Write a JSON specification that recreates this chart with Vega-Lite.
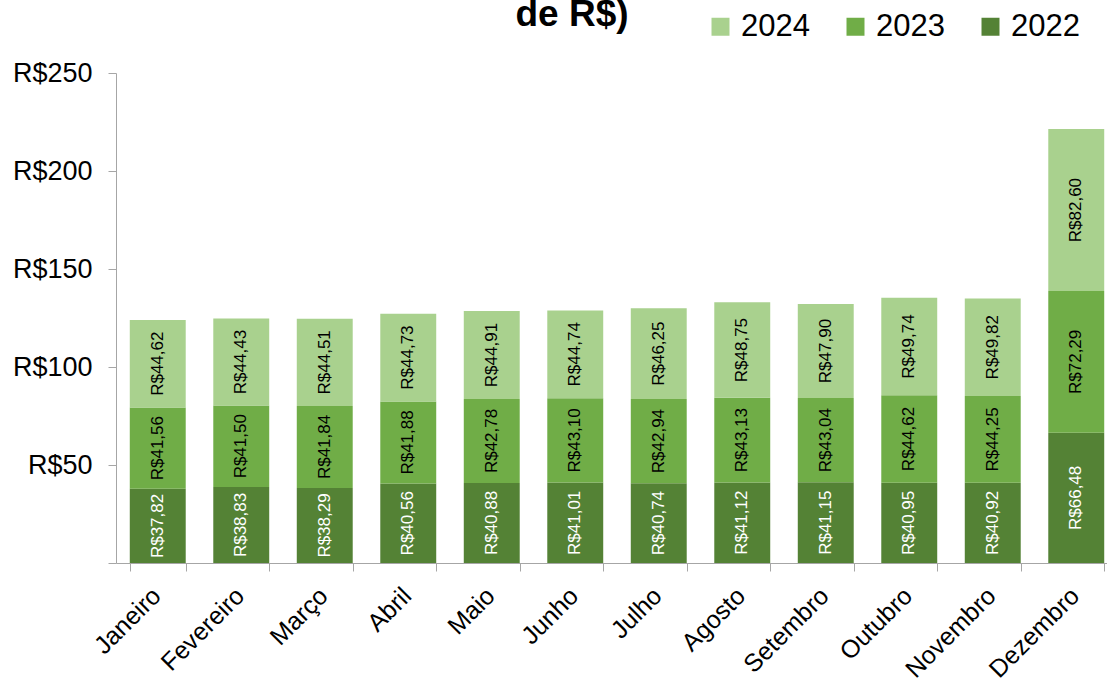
{
  "$schema": "https://vega.github.io/schema/vega-lite/v6.json",
  "autosize": "none",
  "width": 1002,
  "height": 490,
  "padding": {"left": 116, "top": 73, "right": 0, "bottom": 118},
  "background": "white",
  "config": {
    "view": {"stroke": null},
    "font": "Liberation Sans",
    "locale": {"number": {"decimal": ",", "thousands": ".", "grouping": [3], "currency": ["R$", ""]}}
  },
  "title": {
    "text": "de R$)",
    "anchor": "middle",
    "frame": "group",
    "dx": -45,
    "offset": -23,
    "font": "Liberation Sans",
    "fontSize": 37,
    "fontWeight": "bold",
    "color": "black"
  },
  "data": {
    "values": [
      {"month": "Janeiro", "year": "2022", "value": 37.82},
      {"month": "Janeiro", "year": "2023", "value": 41.56},
      {"month": "Janeiro", "year": "2024", "value": 44.62},
      {"month": "Fevereiro", "year": "2022", "value": 38.83},
      {"month": "Fevereiro", "year": "2023", "value": 41.50},
      {"month": "Fevereiro", "year": "2024", "value": 44.43},
      {"month": "Março", "year": "2022", "value": 38.29},
      {"month": "Março", "year": "2023", "value": 41.84},
      {"month": "Março", "year": "2024", "value": 44.51},
      {"month": "Abril", "year": "2022", "value": 40.56},
      {"month": "Abril", "year": "2023", "value": 41.88},
      {"month": "Abril", "year": "2024", "value": 44.73},
      {"month": "Maio", "year": "2022", "value": 40.88},
      {"month": "Maio", "year": "2023", "value": 42.78},
      {"month": "Maio", "year": "2024", "value": 44.91},
      {"month": "Junho", "year": "2022", "value": 41.01},
      {"month": "Junho", "year": "2023", "value": 43.10},
      {"month": "Junho", "year": "2024", "value": 44.74},
      {"month": "Julho", "year": "2022", "value": 40.74},
      {"month": "Julho", "year": "2023", "value": 42.94},
      {"month": "Julho", "year": "2024", "value": 46.25},
      {"month": "Agosto", "year": "2022", "value": 41.12},
      {"month": "Agosto", "year": "2023", "value": 43.13},
      {"month": "Agosto", "year": "2024", "value": 48.75},
      {"month": "Setembro", "year": "2022", "value": 41.15},
      {"month": "Setembro", "year": "2023", "value": 43.04},
      {"month": "Setembro", "year": "2024", "value": 47.90},
      {"month": "Outubro", "year": "2022", "value": 40.95},
      {"month": "Outubro", "year": "2023", "value": 44.62},
      {"month": "Outubro", "year": "2024", "value": 49.74},
      {"month": "Novembro", "year": "2022", "value": 40.92},
      {"month": "Novembro", "year": "2023", "value": 44.25},
      {"month": "Novembro", "year": "2024", "value": 49.82},
      {"month": "Dezembro", "year": "2022", "value": 66.48},
      {"month": "Dezembro", "year": "2023", "value": 72.29},
      {"month": "Dezembro", "year": "2024", "value": 82.60}
    ]
  },
  "encoding": {
    "x": {
      "field": "month",
      "type": "nominal",
      "sort": null,
      "scale": {"paddingInner": 0.33, "paddingOuter": 0.165},
      "axis": {
        "title": null,
        "labelAngle": -45,
        "labelFontSize": 25,
        "labelColor": "black",
        "labelFont": "Liberation Sans",
        "tickBand": "extent",
        "tickSize": 8,
        "tickColor": "#a6a6a6",
        "domainColor": "#a6a6a6",
        "labelPadding": 12,
        "labelOffset": -10
      }
    },
    "y": {
      "field": "value",
      "type": "quantitative",
      "stack": "zero",
      "scale": {"domain": [0, 250]},
      "axis": {
        "title": null,
        "values": [0, 50, 100, 150, 200, 250],
        "format": "$.0f",
        "labelExpr": "datum.value == 0 ? '' : datum.label",
        "labelFontSize": 27,
        "labelColor": "black",
        "labelFont": "Liberation Sans",
        "tickSize": 8,
        "tickColor": "#a6a6a6",
        "domainColor": "#a6a6a6",
        "labelPadding": 16,
        "grid": false
      }
    },
    "order": {"field": "year", "sort": "ascending"}
  },
  "layer": [
    {
      "mark": {"type": "bar"},
      "encoding": {
        "color": {
          "field": "year",
          "type": "nominal",
          "scale": {"domain": ["2024", "2023", "2022"], "range": ["#a9d18e", "#70ad47", "#548235"]},
          "legend": {
            "title": null,
            "orient": "none",
            "direction": "horizontal",
            "legendX": 589,
            "legendY": -62,
            "symbolType": "square",
            "symbolSize": 324,
            "symbolStrokeWidth": 0,
            "symbolOpacity": 1,
            "labelFontSize": 31,
            "labelFont": "Liberation Sans",
            "labelColor": "black",
            "labelOffset": 5,
            "columnPadding": 30
          }
        }
      }
    },
    {
      "mark": {"type": "text", "angle": 270, "fontSize": 17, "font": "Liberation Sans", "align": "center", "baseline": "middle"},
      "encoding": {
        "y": {"field": "value", "type": "quantitative", "stack": "zero", "bandPosition": 0.5},
        "text": {"field": "value", "type": "quantitative", "format": "$.2f"},
        "color": {"condition": {"test": "datum.year == '2022'", "value": "white"}, "value": "black"}
      }
    }
  ]
}
